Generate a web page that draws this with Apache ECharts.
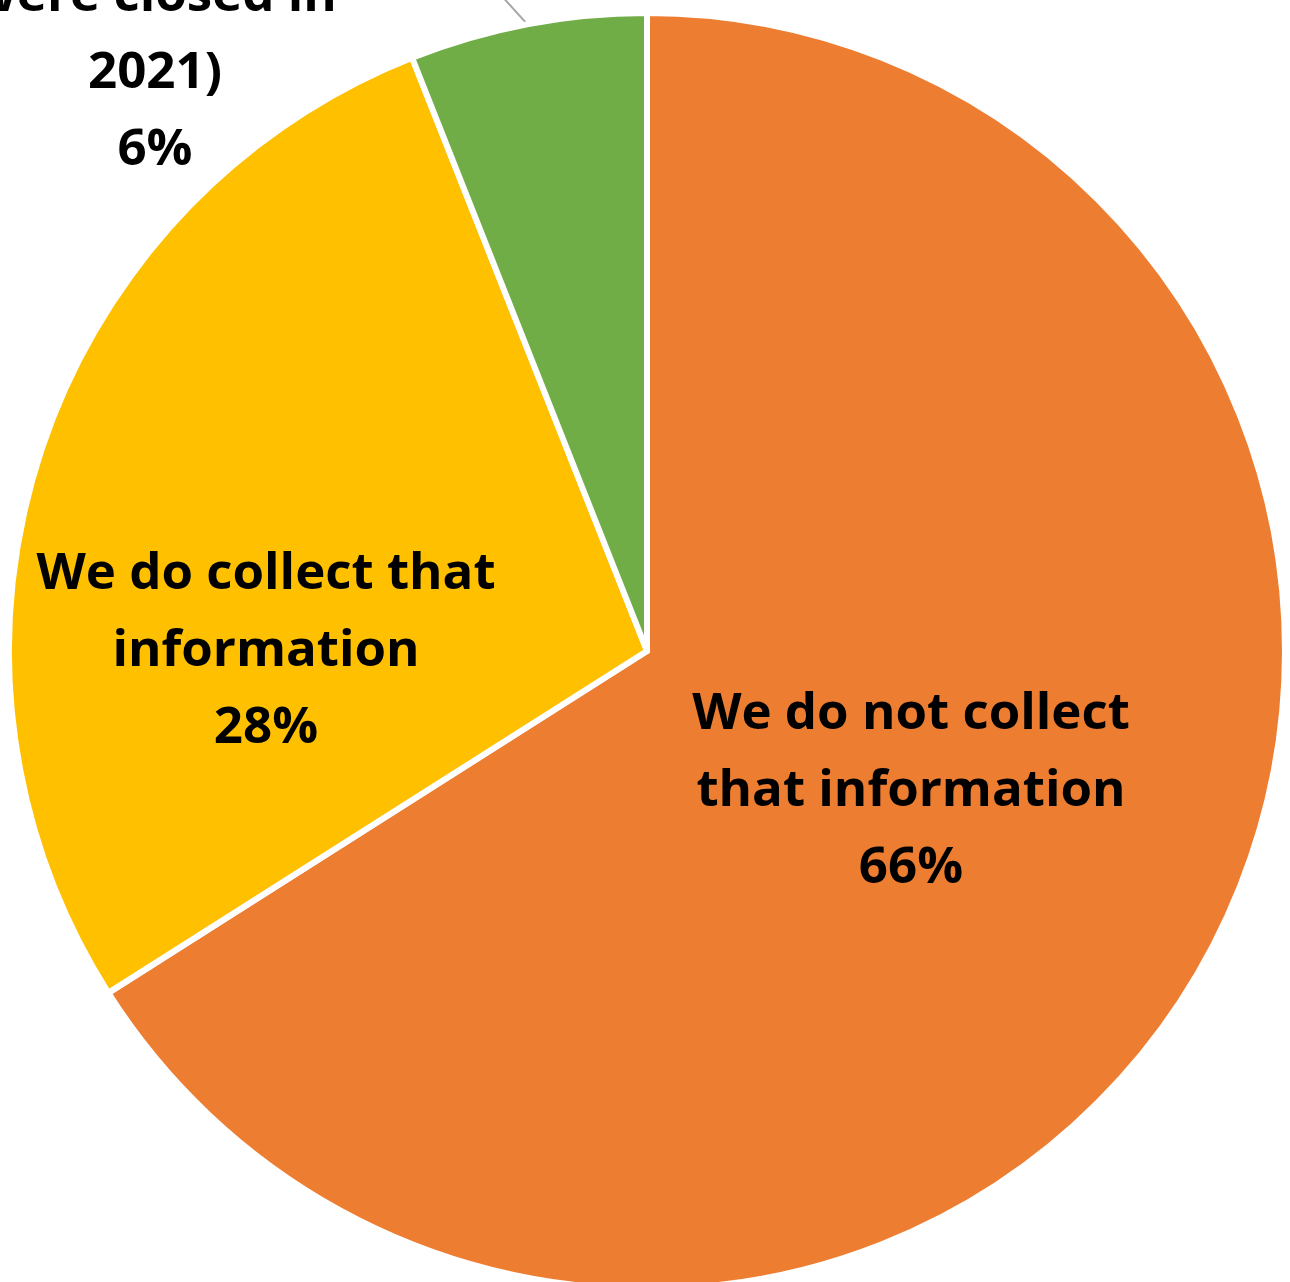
<!DOCTYPE html>
<html>
<head>
<meta charset="utf-8">
<script src="https://cdn.jsdelivr.net/npm/echarts@6/dist/echarts.min.js"></script>
<style>
  html, body { margin: 0; padding: 0; background: #ffffff; }
  #chart { width: 1290px; height: 1282px; }
</style>
</head>
<body>
<div id="chart"></div>
<script>
// Survey responses: does the organisation collect this information?
const categories = [
  'We do not collect\nthat information',
  'We do collect that\ninformation',
  'Not applicable\n(our offices\nwere closed in\n2021)'
];
const shares = [66, 28, 6];
const colors = ['#ED7D31', '#FFC000', '#70AD47'];

const chart = echarts.init(document.getElementById('chart'), null, { renderer: 'canvas' });

const labelFont = {
  color: '#000000',
  fontFamily: '"Open Sans", Lato, sans-serif',
  fontWeight: 'bold',
  fontSize: 51,
  lineHeight: 77
};

// Where each label sits (label centre / anchor)
const labelSpots = [
  { x: 911, y: 791, align: 'center', verticalAlign: 'middle' },
  { x: 266, y: 651, align: 'center', verticalAlign: 'middle' },
  { x: 155, y: 189, align: 'center', verticalAlign: 'bottom' }
];

chart.setOption({
  animation: false,
  backgroundColor: '#ffffff',
  series: [{
    type: 'pie',
    center: [647, 651],
    radius: 638,
    startAngle: 90,
    clockwise: true,
    avoidLabelOverlap: false,
    itemStyle: { borderColor: '#ffffff', borderWidth: 6 },
    label: Object.assign({
      show: true,
      position: 'inside',
      formatter: '{b}\n{d}%'
    }, labelFont),
    labelLine: { show: false },
    data: categories.map((name, i) => {
      const item = { name: name, value: shares[i], itemStyle: { color: colors[i] } };
      if (i === 2) {
        item.label = Object.assign({ position: 'outside' }, labelFont);
        item.labelLine = { show: true, length: 40, length2: 40, lineStyle: { color: '#A6A6A6', width: 2 } };
      }
      return item;
    }),
    labelLayout: function (params) {
      const spot = labelSpots[params.dataIndex];
      const out = { x: spot.x, y: spot.y, align: spot.align, verticalAlign: spot.verticalAlign };
      if (params.dataIndex === 2 && params.labelLinePoints) {
        const p = params.labelLinePoints[0];
        out.labelLinePoints = [p, [p[0] - 50, p[1] - 55], [p[0] - 100, p[1] - 110]];
      }
      return out;
    }
  }]
});
</script>
</body>
</html>
